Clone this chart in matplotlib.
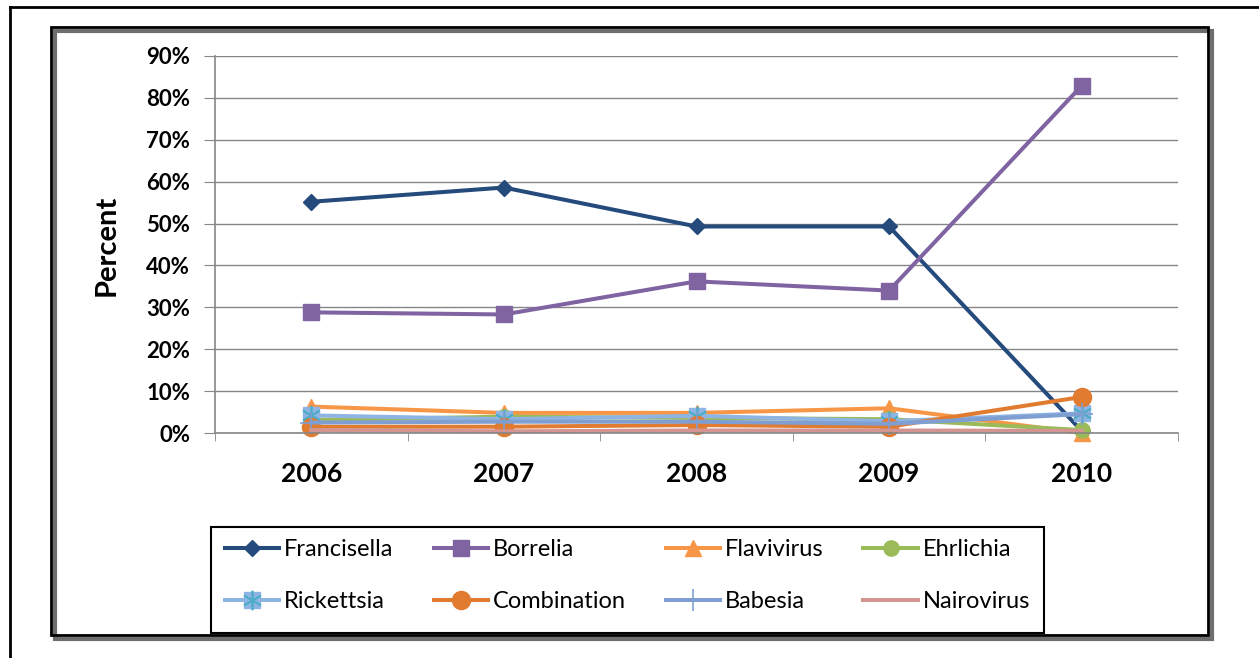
import matplotlib
matplotlib.use("Agg")
import matplotlib.pyplot as plt
from matplotlib.patches import Rectangle
from matplotlib.legend_handler import HandlerTuple
from matplotlib.ticker import PercentFormatter, FixedLocator

plt.rcParams['font.family'] = ['Lato', 'DejaVu Sans']

# percent of cases per agent, by year
years = ["2006", "2007", "2008", "2009", "2010"]
francisella = [55.2, 58.6, 49.3, 49.3, 0.5]
borrelia = [28.8, 28.3, 36.2, 34.0, 82.9]
flavivirus = [6.3, 4.8, 4.8, 5.9, 0.0]
ehrlichia = [3.1, 3.9, 3.6, 3.3, 0.7]
rickettsia = [4.2, 3.3, 4.1, 2.8, 4.7]
combination = [1.5, 1.5, 1.9, 1.5, 8.6]
babesia = [2.5, 2.7, 2.7, 2.2, 4.5]
nairovirus = [0.7, 0.4, 0.6, 0.6, 0.5]

W, H = 1259, 658
fig = plt.figure(figsize=(W / 100, H / 100), dpi=100)
ax = fig.add_axes([215 / W, 1 - 433 / H, (1178 - 215) / W, (433 - 56) / H])

x = range(len(years))
lw = 2.9
kw = dict(lw=lw, clip_on=False)

h_fr, = ax.plot(x, francisella, color="#254a7c", marker="D", ms=8, label="Francisella", **kw)
h_bo, = ax.plot(x, borrelia, color="#8064a2", marker="s", ms=12, label="Borrelia", **kw)
h_fl, = ax.plot(x, flavivirus, color="#f79646", marker="^", ms=12, label="Flavivirus", **kw)
h_eh, = ax.plot(x, ehrlichia, color="#9bbb59", marker="o", ms=11, label="Ehrlichia", **kw)
h_ri, = ax.plot(x, rickettsia, color="#8eb4e3", marker="s", ms=12, label="Rickettsia", **kw)
h_ri2, = ax.plot(x, rickettsia, ls="none", marker=(6, 2, 0), ms=14, mew=1.2,
                 mec="#4bacc6", clip_on=False)
h_co, = ax.plot(x, combination, color="#e07b30", marker="o", ms=13, label="Combination", **kw)
h_ba, = ax.plot(x, babesia, color="#7f9fd2", marker="+", ms=16, mew=1.2, label="Babesia", **kw)
h_na, = ax.plot(x, nairovirus, color="#d49592", label="Nairovirus", **kw)

ax.set_xlim(-0.5, len(years) - 0.5)
ax.set_ylim(0, 90)
ax.yaxis.set_major_locator(FixedLocator(range(0, 91, 10)))
ax.yaxis.set_major_formatter(PercentFormatter(decimals=0))
ax.set_xticks(list(x))
ax.set_xticklabels(years)
ax.set_xticks([i - 0.5 for i in range(len(years) + 1)], minor=True)
ax.tick_params(axis="x", which="major", length=0, pad=21, labelsize=19)
ax.tick_params(axis="x", which="minor", length=6, color="#868686", direction="out")
ax.tick_params(axis="y", length=8, color="#868686", pad=10, labelsize=16)
for lab in ax.get_xticklabels() + ax.get_yticklabels():
    lab.set_fontweight("bold")

ax.grid(axis="y", color="#868686", lw=1)
ax.set_axisbelow(True)
for s in ["top", "right"]:
    ax.spines[s].set_visible(False)
for s in ["left", "bottom"]:
    ax.spines[s].set_color("#868686")
    ax.spines[s].set_linewidth(1.2)

fig.text(107 / W, 1 - 245 / H, "Percent", rotation=90, ha="center", va="center",
         fontsize=21, fontweight="bold")

handles = [h_fr, (h_ri, h_ri2), h_bo, h_co, h_fl, h_ba, h_eh, h_na]
labels = ["Francisella", "Rickettsia", "Borrelia", "Combination",
          "Flavivirus", "Babesia", "Ehrlichia", "Nairovirus"]
leg = fig.legend(handles, labels, ncol=4, loc="center", borderaxespad=0,
                 bbox_to_anchor=(211 / W, 1 - 628.5 / H, 833 / W, 106 / H), mode="expand",
                 fontsize=17, handlelength=2.3, handletextpad=0.2, labelspacing=1.3,
                 borderpad=0.6, frameon=False,
                 handler_map={tuple: HandlerTuple(ndivide=1, pad=0)})

# legend box
fig.add_artist(Rectangle((211 / W, 1 - 633 / H), 833 / W, 106 / H, transform=fig.transFigure,
                         fc="none", ec="black", lw=1.5))

# inner chart frame with drop shadow, and the outer page border
fig.add_artist(Rectangle((55 / W, 1 - 639 / H), 1157 / W, 608 / H, transform=fig.transFigure,
                         fc="none", ec="#6e6e6e", lw=3, zorder=0))
fig.add_artist(Rectangle((51 / W, 1 - 635 / H), 1157 / W, 608 / H, transform=fig.transFigure,
                         fc="none", ec="black", lw=2, zorder=1))
fig.add_artist(plt.Line2D([10 / W, 1], [1 - 7 / H, 1 - 7 / H], transform=fig.transFigure,
                          color="black", lw=2))
fig.add_artist(plt.Line2D([10 / W, 10 / W], [0, 1 - 7 / H], transform=fig.transFigure,
                          color="black", lw=2))

fig.savefig("out.png", dpi=100)
